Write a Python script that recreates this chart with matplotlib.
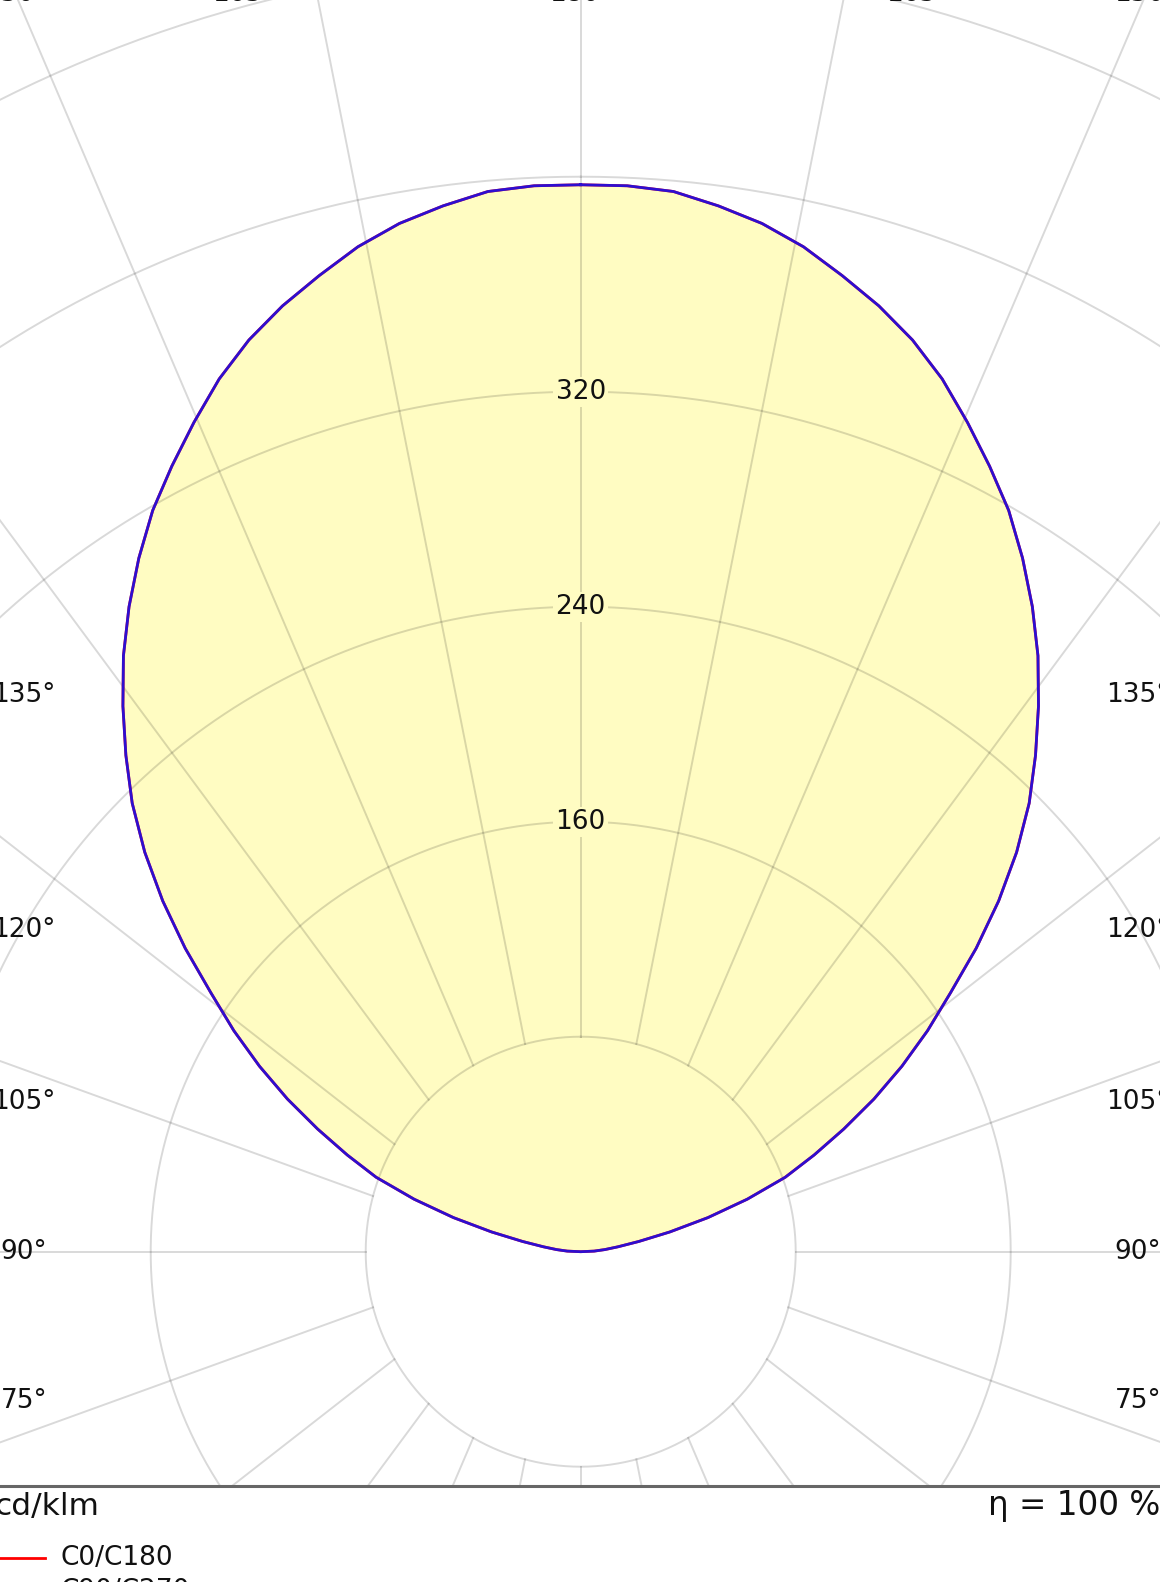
import numpy as np
import matplotlib
matplotlib.use("Agg")
import matplotlib.pyplot as plt

# ---------------- data ----------------
gamma_deg = [90, 92.5, 95, 97.5, 100, 102.5, 105, 107.5, 110, 112.5,
             115, 117.5, 120, 122.5, 125, 127.5, 130, 132.5, 135, 137.5,
             140, 142.5, 145, 147.5, 150, 152.5, 155, 157.5, 160, 162.5,
             165, 167.5, 170, 172.5, 175, 177.5, 180]
c0_c180 = [0, 5, 9, 14, 22, 34, 49, 65, 81, 94,
           108, 123, 138, 153, 168, 185.5, 203, 220, 236, 250.5,
           265, 279.5, 293, 306, 318.5, 329.5, 340.5, 351.5, 361, 369,
           376, 383, 388.5, 392.5, 396, 397, 397]
c90_c270 = [0, 5, 9, 14, 22, 34, 49, 65, 81, 94,
            108, 123, 138, 153, 168, 185.5, 203, 220, 236, 250.5,
            265, 279.5, 293, 306, 318.5, 329.5, 340.5, 351.5, 361, 369,
            376, 383, 388.5, 392.5, 396, 397, 397]
ring_values = [80, 160, 240, 320, 400, 480, 560]
ring_label_values = [160, 240, 320]
angle_label_values = [180, 165, 150, 135, 120, 105, 90, 75]
spoke_angles = list(range(0, 360, 15))
unit_text = "cd/klm"
eta_text = "η = 100 %"
legend_names = ["C0/C180", "C90/C270"]

# ---------------- layout / style ----------------
W, H, DPI = 1160, 1582, 100
PX = 215.0 / 80.0          # pixels per cd/klm
CX, CY = 580.7, 1251.7     # pole in pixels (from top-left)
YB = 1486.0                # bottom frame line (pixels)
FILL = "#fffcc2"
GRID = (0, 0, 0, 0.15)
SPOKE_SQUEEZE = 0.74

fig = plt.figure(figsize=(W / DPI, H / DPI), dpi=DPI)
fig.patch.set_facecolor("white")
ax = fig.add_axes([0, (H - YB) / H, 1, YB / H])
ax.set_xlim(-CX / PX, (W - CX) / PX)
ax.set_ylim(-(YB - CY) / PX, CY / PX)
ax.set_xticks([])
ax.set_yticks([])
for side in ("top", "left", "right"):
    ax.spines[side].set_visible(False)
ax.spines["bottom"].set_color("#666666")
ax.spines["bottom"].set_linewidth(2.2)


def half_xy(values, sign):
    th = np.radians(180.0 - np.asarray(gamma_deg, float))
    v = np.asarray(values, float)
    return sign * v * np.sin(th), v * np.cos(th)


def full_curve(values_a, values_b):
    xr, yr = half_xy(values_a, 1)
    xl, yl = half_xy(values_b, -1)
    x = np.concatenate([xl[::-1], xr[1:]])
    y = np.concatenate([yl[::-1], yr[1:]])
    return x, y


# fill of the distribution
xf, yf = full_curve(c0_c180, c0_c180)
ax.fill(xf, yf, color=FILL, lw=0, zorder=1)

# rings
t = np.linspace(0, 2 * np.pi, 721)
for r in ring_values:
    ax.plot(r * np.sin(t), r * np.cos(t), color=GRID, lw=1.4, zorder=2)

# spokes (start on the first ring)
r0 = ring_values[0]
for a in spoke_angles:
    th = np.radians(a)
    sx, sy = r0 * np.sin(th), r0 * np.cos(th)
    dx, dy = SPOKE_SQUEEZE * np.sin(th), np.cos(th)
    n = np.hypot(dx, dy)
    ex, ey = sx + 1200 * dx / n, sy + 1200 * dy / n
    ax.plot([sx, ex], [sy, ey], color=GRID, lw=1.4, zorder=2)

# curves
x0, y0 = full_curve(c0_c180, c0_c180)
ax.plot(x0, y0, color="#ff0000", lw=2.0, zorder=3, solid_joinstyle="round")
x9, y9 = full_curve(c90_c270, c90_c270)
ax.plot(x9, y9, color="#1010ee", lw=2.0, alpha=0.88, zorder=3.1,
        solid_joinstyle="round")

# ring labels
for r in ring_label_values:
    ax.text(0, r, f"{r}", ha="center", va="center", fontsize=19,
            color="#111111", zorder=4,
            bbox=dict(boxstyle="square,pad=0.08", fc=FILL, ec="none"))

# angle labels around the frame
TOP = 1258.0 / PX
TOPX = 565.0 / PX
SIDE = 557.0 / PX
for g in angle_label_values:
    th = 180.0 - g
    for sgn in (-1, 1):
        if g == 180 and sgn == 1:
            continue
        if th < 45:
            xo = min(TOP * np.tan(np.radians(th)), TOPX)
            yo = TOP
        else:
            xo = SIDE
            yo = SIDE / np.tan(np.radians(th))
        ax.text(sgn * xo, yo, f"{g}°", ha="center", va="center",
                fontsize=19, color="#111111", clip_on=False, zorder=5)

# bottom texts and legend (pixel coordinate overlay)
lax = fig.add_axes([0, 0, 1, 1], facecolor="none")
lax.set_xlim(0, W)
lax.set_ylim(H, 0)
lax.axis("off")
lax.text(-6, 1506, unit_text, ha="left", va="center", fontsize=22.5,
         color="#111111")
lax.text(988, 1506, eta_text, ha="left", va="center", fontsize=23.5,
         color="#111111")
leg_colors = ["#ff0000", "#0000ff"]
for i, (name, col) in enumerate(zip(legend_names, leg_colors)):
    yy = 1558 + i * 33
    lax.plot([0, 45], [yy, yy], color=col, lw=2)
    lax.text(61, yy, name, ha="left", va="center", fontsize=19,
             color="#111111")

fig.savefig("out.png", dpi=DPI)
